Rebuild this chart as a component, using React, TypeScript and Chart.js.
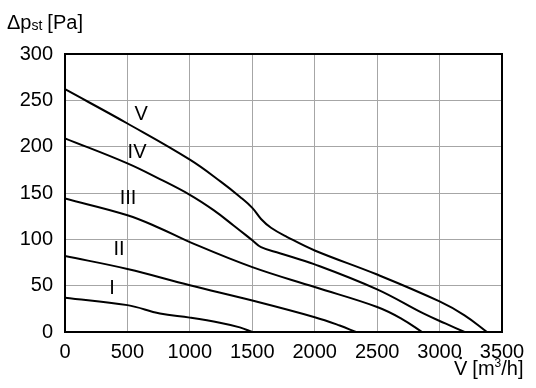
import React, { useEffect, useRef } from "react";
import { Chart, registerables } from "chart.js";

Chart.register(...registerables);

const FAMILY = '"Liberation Sans", Arial, sans-serif';

const xTicks = [0, 500, 1000, 1500, 2000, 2500, 3000, 3500];
const yTicks = [0, 50, 100, 150, 200, 250, 300];

const curveNames = ["V", "IV", "III", "II", "I"];

const curveV = [
  [0, 262], [500, 225], [1000, 186], [1250, 162], [1400, 146], [1500, 134],
  [1570, 122], [1650, 112.5], [1780, 102.5], [2000, 88], [2500, 62], [3000, 33],
  [3200, 18], [3380, 0],
];
const curveIV = [
  [0, 209], [500, 182], [760, 165], [1000, 148], [1190, 131.5], [1350, 115],
  [1500, 99], [1570, 91.5], [1720, 85], [2000, 73], [2500, 46], [2870, 20],
  [3050, 9], [3200, 0],
];
const curveIII = [
  [0, 144], [500, 126], [760, 112], [1000, 97], [1500, 70], [2000, 48.5],
  [2500, 27], [2700, 14], [2860, 0],
];
const curveII = [
  [0, 82], [500, 68], [1000, 50.5], [1500, 34], [2000, 16], [2200, 7], [2330, 0],
];
const curveI = [
  [0, 37], [500, 29], [760, 20], [1000, 15.5], [1240, 10], [1400, 5], [1500, 0],
];

const labelX = [610, 577, 505, 433, 377];
const labelY = [235, 194, 144, 89, 47];

const curves = [curveV, curveIV, curveIII, curveII, curveI];

const f = (size: number) => `${size}px ${FAMILY}`;

const overlay = {
  id: "overlay",
  afterDraw(chart: any) {
    const ctx = chart.ctx;
    const { left, top, right, bottom } = chart.chartArea;
    const xs = chart.scales.x;
    const ys = chart.scales.y;
    ctx.save();
    ctx.strokeStyle = "#000";
    ctx.lineWidth = 2;
    ctx.strokeRect(left, top, right - left, bottom - top);
    ctx.fillStyle = "#000";
    ctx.font = f(20);
    ctx.textAlign = "center";
    ctx.textBaseline = "middle";
    curveNames.forEach((n, i) => {
      ctx.fillText(n, xs.getPixelForValue(labelX[i]), ys.getPixelForValue(labelY[i]));
    });
    ctx.textAlign = "left";
    ctx.textBaseline = "alphabetic";
    ctx.font = f(20);
    let x = 7;
    const base = 29;
    ctx.fillText("\u0394p", x, base);
    x += ctx.measureText("\u0394p").width;
    ctx.font = f(14);
    ctx.fillText("st", x, base + 1);
    x += ctx.measureText("st").width + 5;
    ctx.font = f(20);
    ctx.fillText("[Pa]", x, base);
    const xb = 375;
    ctx.font = f(20);
    const vx = 454;
    ctx.fillText("V", vx, xb);
    const vw = ctx.measureText("V").width;
    ctx.beginPath();
    ctx.arc(vx + vw / 2, xb - 17, 1.3, 0, Math.PI * 2);
    ctx.fill();
    let tx = vx + vw + 5;
    ctx.fillText("[m", tx, xb);
    tx += ctx.measureText("[m").width;
    ctx.font = f(12);
    ctx.fillText("3", tx, xb - 8);
    tx += ctx.measureText("3").width;
    ctx.font = f(20);
    ctx.fillText("/h]", tx, xb);
    ctx.restore();
  },
};

export default function App() {
  const ref = useRef<HTMLCanvasElement>(null);
  useEffect(() => {
    if (!ref.current) return;
    const tickFont = { family: FAMILY, size: 20 };
    const chart = new Chart(ref.current, {
      type: "line",
      data: {
        datasets: curves.map((c, i) => ({
          label: curveNames[i],
          data: c.map(([x, y]) => ({ x, y })),
          borderColor: "#000",
          borderWidth: 2,
          pointRadius: 0,
          fill: false,
          tension: 0.4,
        })),
      },
      options: {
        responsive: false,
        animation: false,
        layout: { padding: { left: 0, top: 54, right: 34, bottom: 0 } },
        plugins: { legend: { display: false }, tooltip: { enabled: false } },
        scales: {
          x: {
            type: "linear",
            min: 0,
            max: 3500,
            afterBuildTicks: (s: any) => { s.ticks = xTicks.map((v) => ({ value: v })); },
            afterFit: (s: any) => { s.height = 56; },
            grid: { color: "#a6a6a6", lineWidth: 1, drawTicks: false },
            border: { display: false },
            ticks: { color: "#000", font: tickFont, padding: 8, maxRotation: 0, callback: (v: any) => String(v) },
          },
          y: {
            type: "linear",
            min: 0,
            max: 300,
            afterBuildTicks: (s: any) => { s.ticks = yTicks.map((v) => ({ value: v })); },
            afterFit: (s: any) => { s.width = 65; },
            grid: { color: "#a6a6a6", lineWidth: 1, drawTicks: false },
            border: { display: false },
            ticks: { color: "#000", font: tickFont, padding: 12, callback: (v: any) => String(v) },
          },
        },
      },
      plugins: [overlay],
    });
    return () => chart.destroy();
  }, []);
  return (
    <canvas
      ref={ref}
      width={536}
      height={388}
      style={{ position: "absolute", left: 0, top: 0, display: "block", background: "#fff" }}
    />
  );
}
